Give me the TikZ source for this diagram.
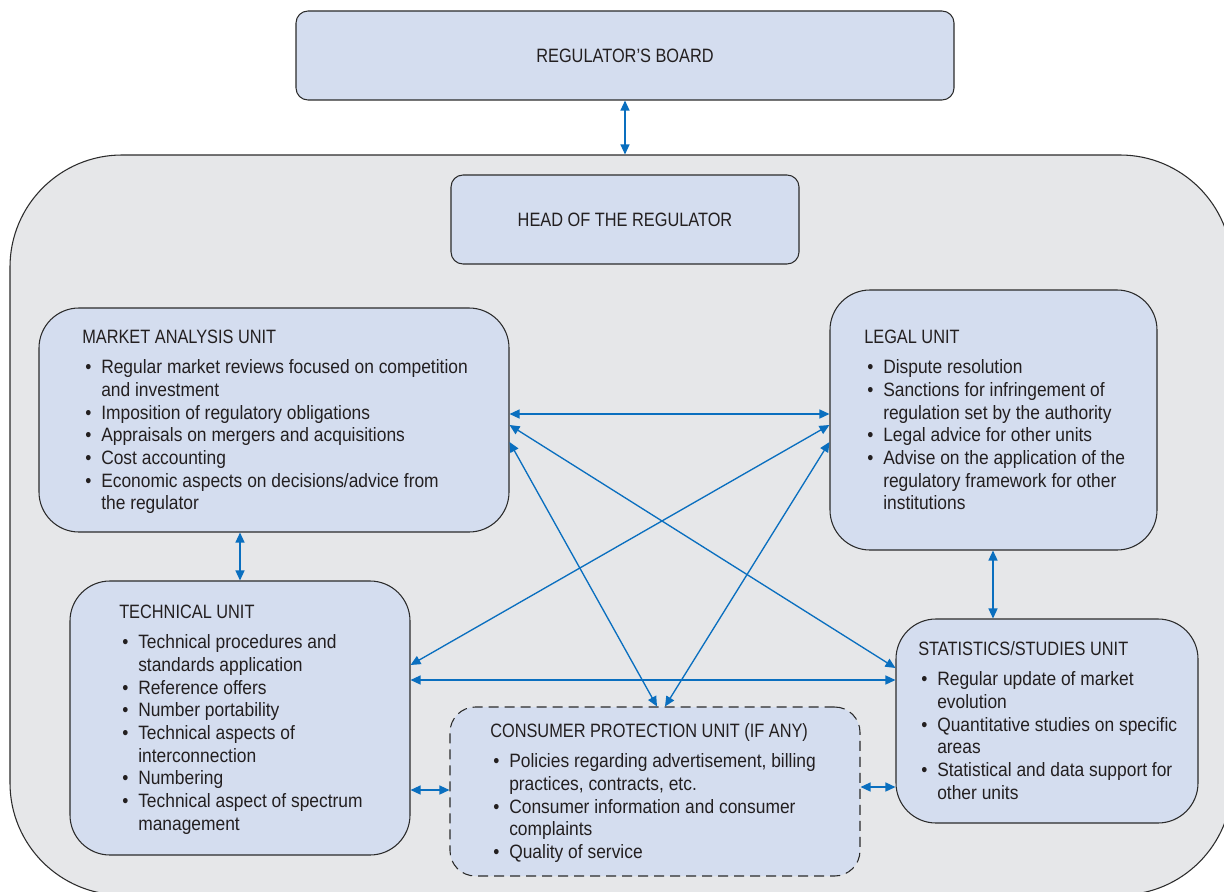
\documentclass[tikz,border=0pt]{standalone}
\usepackage{fontspec}
\setmainfont{Liberation Sans}[FakeStretch=0.90]
\newfontfamily\headfont{Liberation Sans}[FakeStretch=0.845]
\usetikzlibrary{arrows.meta}
\newdimen\pxu \pxu=0.75pt
\definecolor{unitfill}{HTML}{D4DDEF}
\definecolor{officefill}{HTML}{E6E7E9}
\definecolor{edge}{HTML}{2B2B2B}
\definecolor{ink}{HTML}{231F20}
\definecolor{linkblue}{HTML}{0A6FBF}
% bullet item, continuation line and a unit's text block
\newcommand\itm{\hspace*{3\pxu}\makebox[16\pxu][l]{\textbullet}}
\newcommand\cnt{\hspace*{19\pxu}}
\newcommand\unitblock[2]{\parbox[t]{440\pxu}{\raggedright\fontsize{14.5pt}{17pt}\selectfont {\headfont #1}\\[8\pxu]#2}}
\begin{document}
\begin{tikzpicture}[x=0.75pt,y=-0.75pt,
  size/.style 2 args={minimum width={0.75pt*#1}, minimum height={0.75pt*#2}},
  unit/.style={draw=edge, line width=0.8pt, fill=unitfill, rounded corners=30pt,
    inner sep=0pt, text=ink, font=\fontsize{14.5pt}{17pt}\selectfont\headfont},
  office/.style={draw=edge, line width=0.8pt, fill=officefill, rounded corners=84pt, inner sep=0pt},
  optional/.style={dash pattern=on 7.5pt off 4.5pt},
  label/.style={anchor=base west, inner sep=0pt, text=ink},
  link/.style={draw=linkblue, line width=1pt, {Triangle[length=7.5pt,width=6.75pt]}-{Triangle[length=7.5pt,width=6.75pt]}}]
\useasboundingbox (0,0) rectangle (1224,892);
\clip (0,0) rectangle (1224,892);

% the regulator's office
\node[office, size={1222}{740}] (office) at (621,525) {};

% boxes
\node[unit, rounded corners=9pt, size={658}{89}] (board) at (625,55.5) {REGULATOR’S BOARD};
\node[unit, rounded corners=9pt, size={348}{89}] (head) at (625,219.5) {HEAD OF THE REGULATOR};
\node[unit, size={470}{224}] (market) at (274,420) {};
\node[unit, size={327}{260}] (legal) at (993.5,420) {};
\node[unit, size={340}{274}] (tech) at (240,718) {};
\node[unit, size={302}{204}] (stats) at (1047,721) {};
\node[unit, optional, rounded corners=19pt, size={410}{169}] (consumer) at (655,791.5) {};

% unit texts
\node[label] (market-text) at (82,343) {\unitblock{MARKET ANALYSIS UNIT}{%
  \itm Regular market reviews focused on competition\\
  \cnt and investment\\
  \itm Imposition of regulatory obligations\\
  \itm Appraisals on mergers and acquisitions\\
  \itm Cost accounting\\
  \itm Economic aspects on decisions/advice from\\
  \cnt the regulator}};
\node[label] (legal-text) at (864,343) {\unitblock{LEGAL UNIT}{%
  \itm Dispute resolution\\
  \itm Sanctions for infringement of\\
  \cnt regulation set by the authority\\
  \itm Legal advice for other units\\
  \itm Advise on the application of the\\
  \cnt regulatory framework for other\\
  \cnt institutions}};
\node[label] (tech-text) at (119,618) {\unitblock{TECHNICAL UNIT}{%
  \itm Technical procedures and\\
  \cnt standards application\\
  \itm Reference offers\\
  \itm Number portability\\
  \itm Technical aspects of\\
  \cnt interconnection\\
  \itm Numbering\\
  \itm Technical aspect of spectrum\\
  \cnt management}};
\node[label] (stats-text) at (918,655) {\unitblock{STATISTICS/STUDIES UNIT}{%
  \itm Regular update of market\\
  \cnt evolution\\
  \itm Quantitative studies on specific\\
  \cnt areas\\
  \itm Statistical and data support for\\
  \cnt other units}};
\node[label] (consumer-text) at (490,737) {\unitblock{CONSUMER PROTECTION UNIT (IF ANY)}{%
  \itm Policies regarding advertisement, billing\\
  \cnt practices, contracts, etc.\\
  \itm Consumer information and consumer\\
  \cnt complaints\\
  \itm Quality of service}};

% connectors
\draw[link] (board.south) -- (board.south |- office.north);
\draw[link] (market.east |- 0,414) -- (legal.west |- 0,414);
\draw[link] (market.east |- 0,425) -- (stats.west |- 0,668);
\draw[link] (market.east |- 0,442) -- (consumer.north -| 657,0);
\draw[link] (legal.west |- 0,425) -- (tech.east |- 0,665);
\draw[link] (legal.west |- 0,442) -- (consumer.north -| 665,0);
\draw[link] (tech.east |- 0,680) -- (stats.west |- 0,680);
\draw[link] (market.south -| 240,0) -- (tech.north);
\draw[link] (legal.south -| 993,0) -- (stats.north -| 993,0);
\draw[link] (tech.east |- 0,790) -- (consumer.west |- 0,790);
\draw[link] (consumer.east |- 0,787) -- (stats.west |- 0,787);
\end{tikzpicture}
\end{document}
